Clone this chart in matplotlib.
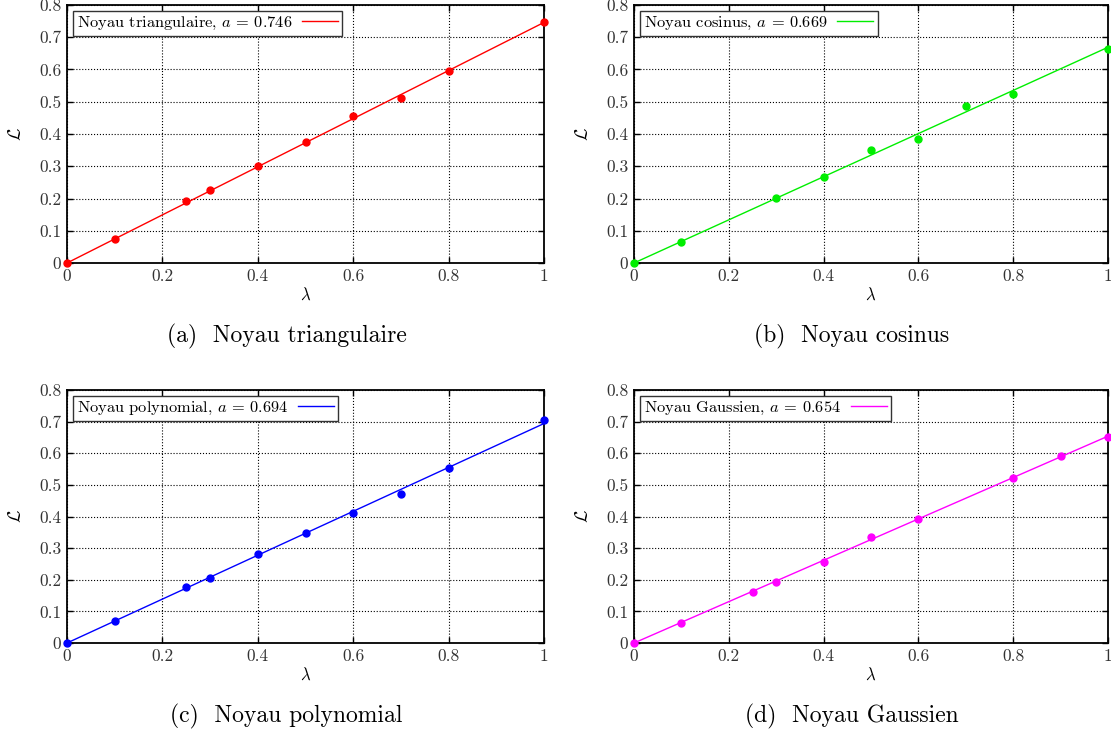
import numpy as np
import matplotlib
matplotlib.use('Agg')
import matplotlib.pyplot as plt

plt.rcParams['font.family'] = 'cmr10'
plt.rcParams['mathtext.fontset'] = 'cm'
plt.rcParams['axes.formatter.use_mathtext'] = True

# data
x_tri = [0, 0.1, 0.25, 0.3, 0.4, 0.5, 0.6, 0.7, 0.8, 1.0]
y_tri = [0, 0.074, 0.193, 0.226, 0.301, 0.376, 0.455, 0.513, 0.596, 0.746]
a_tri = 0.746

x_cos = [0, 0.1, 0.3, 0.4, 0.5, 0.6, 0.7, 0.8, 1.0]
y_cos = [0, 0.065, 0.203, 0.267, 0.351, 0.385, 0.488, 0.524, 0.665]
a_cos = 0.669

x_pol = [0, 0.1, 0.25, 0.3, 0.4, 0.5, 0.6, 0.7, 0.8, 1.0]
y_pol = [0, 0.068, 0.177, 0.207, 0.280, 0.349, 0.412, 0.472, 0.554, 0.704]
a_pol = 0.694

x_gau = [0, 0.1, 0.25, 0.3, 0.4, 0.5, 0.6, 0.8, 0.9, 1.0]
y_gau = [0, 0.064, 0.161, 0.194, 0.257, 0.335, 0.392, 0.523, 0.590, 0.650]
a_gau = 0.654

names = ['triangulaire', 'cosinus', 'polynomial', 'Gaussien']
letters = ['a', 'b', 'c', 'd']
colors = ['#ff0000', '#00ee00', '#0000ff', '#ff00ff']
xs = [x_tri, x_cos, x_pol, x_gau]
ys = [y_tri, y_cos, y_pol, y_gau]
coefs = [a_tri, a_cos, a_pol, a_gau]

fig = plt.figure(figsize=(11.11, 7.34), dpi=100)
W, H = 1111, 734
# pixel boxes: left, right, top, bottom
boxes = [(67, 544, 5, 263), (634, 1108, 5, 263),
         (67, 544, 390, 643), (634, 1108, 390, 643)]
caption_y = [336, 336, 716, 716]

for i in range(4):
    l, r, t, b = boxes[i]
    ax = fig.add_axes([l / W, 1 - b / H, (r - l) / W, (b - t) / H])
    ax.plot([0, 1], [0, coefs[i]], color=colors[i], lw=1,
            label='Noyau %s, $a$ = %.3f' % (names[i], coefs[i]), zorder=3)
    ax.plot(xs[i], ys[i], 'o', color=colors[i], ms=5, clip_on=False, zorder=4)
    ax.set_xlim(0, 1)
    ax.set_ylim(0, 0.8)
    ax.set_xticks([0, 0.2, 0.4, 0.6, 0.8, 1])
    ax.set_xticklabels(['0', '0.2', '0.4', '0.6', '0.8', '1'])
    ax.set_yticks(np.arange(0, 0.81, 0.1))
    ax.set_yticklabels(['0', '0.1', '0.2', '0.3', '0.4', '0.5', '0.6', '0.7', '0.8'])
    ax.tick_params(direction='in', length=4, width=1, top=True, right=True,
                   labelsize=12.5, labelcolor='#333333', pad=4)
    ax.grid(True, color='black', linestyle=':', lw=0.8)
    for s in ax.spines.values():
        s.set_linewidth(1.3)
    ax.set_xlabel(r'$\lambda$', fontsize=12, labelpad=2)
    ax.set_ylabel(r'$\mathcal{L}$', fontsize=13, labelpad=11)
    leg = ax.legend(loc='upper left', markerfirst=False, fontsize=11.8,
                    fancybox=False, framealpha=1, edgecolor='#333333',
                    borderaxespad=0.35, handlelength=2.2, borderpad=0.25,
                    handletextpad=0.6)
    leg.get_frame().set_linewidth(1)
    fig.text(((l + r) / 2 - 19) / W, 1 - caption_y[i] / H,
             '(%s)  Noyau %s' % (letters[i], names[i]),
             ha='center', va='center', fontsize=17)

fig.savefig('out.png', dpi=100)
